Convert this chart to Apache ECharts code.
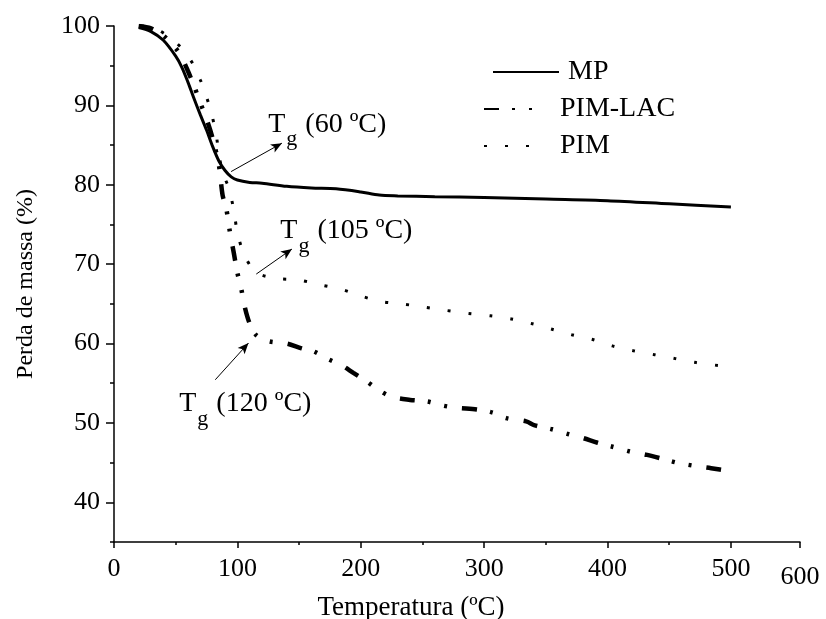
<!DOCTYPE html>
<html><head><meta charset="utf-8">
<script src="https://cdn.jsdelivr.net/npm/echarts@6/dist/echarts.min.js"></script>
<style>html,body{margin:0;padding:0;background:#fff}#c{width:826px;height:619px}</style>
</head><body><div id="c"></div>
<script>
// ---- data ----
const seriesNames = ['MP', 'PIM-LAC', 'PIM'];
const mpTemp = [20,30,40,50,55,60,65,70,75,80,85,90,95,100,110,120,140,160,180,200,215,230,260,300,350,400,450,500];
const mpMass = [99.8,99.3,98.2,96.2,94.8,92.9,90.8,88.8,86.9,84.8,83.0,81.8,81.0,80.6,80.3,80.2,79.8,79.6,79.5,79.1,78.7,78.6,78.5,78.4,78.2,78.0,77.6,77.2];
const lacTemp = [20,30,40,50,55,60,65,70,75,80,85,88,91,94,97,100,103,106,110,115,125,140,152,162,174,184,194,205,214,225,240,254,266,278,294,307,318,334,341,355,368,380,392,404,418,431,444,456,470,484,500];
const lacMass = [100,99.7,98.8,97.2,96.0,94.3,92.4,90.3,88.3,85.8,82.5,78.7,77.0,74.0,71.5,68.9,67.0,64.6,62.5,61.1,60.3,60.0,59.4,59.0,58.0,57.3,56.3,55.2,54.2,53.3,52.9,52.7,52.2,51.9,51.7,51.3,50.6,50.2,49.7,49.2,48.6,48.1,47.5,47.0,46.4,46.0,45.5,45.0,44.6,44.3,43.9];
const pimTemp = [22,30,44,56,66,70,73,79,83,86,90,93,97,100,106,116,132,150,167,185,200,216,233,251,268,287,305,322,339,355,371,388,404,421,438,455,472,491,500];
const pimMass = [100,99.9,98.7,97.0,94.7,93.2,92.0,89.0,86.1,83.0,80.8,79.6,76.9,74.0,71.0,68.9,68.2,68.0,67.4,66.8,66.0,65.3,65.0,64.6,64.2,63.8,63.5,63.1,62.5,61.8,61.1,60.5,59.7,59.1,58.6,58.1,57.6,57.2,57.0];

const xTickValues = [0,100,200,300,400,500,556];
const xTickLabels = ['0','100','200','300','400','500','600'];
const xMinorTicks = [50,150,250,350,450];
const yTickValues = [40,50,60,70,80,90,100];
const yTickLabels = ['40','50','60','70','80','90','100'];
const yMinorTicks = [35,45,55,65,75,85,95];

// annotations: text after "Tg", label anchor (data coords), arrow start / end (data coords)
const annoTexts = ['(60 ºC)', '(105 ºC)', '(120 ºC)'];
const annoAt = [[125.0, 87.6], [134.8, 74.2], [52.9, 52.4]];
const arrowFrom = [[94.9, 81.66], [115.3, 68.75], [82.1, 55.44]];
const arrowTo = [[136.1, 85.24], [144.2, 71.9], [109.0, 60.06]];

// ---- chart ----
const FONT = 'Liberation Serif';
const zip = (a, b) => a.map((v, i) => [v, b[i]]);
const chart = echarts.init(document.getElementById('c'), null, {renderer: 'canvas'});

const baseText = {fontFamily: FONT, color: '#000'};
function legendAt(name, left, top, w, pad) {
  return {
    data: [name], left: left, top: top, padding: 0, itemWidth: w, itemHeight: 14,
    selectedMode: false, orient: 'horizontal',
    itemStyle: {opacity: 0},
    textStyle: Object.assign({fontSize: 28, padding: [0, 0, 0, pad]}, baseText)
  };
}

const option = {
  animation: false,
  backgroundColor: '#fff',
  grid: {left: 114, right: 26, top: 26, bottom: 77, containLabel: false, outerBoundsMode: 'none'},
  legend: [
    legendAt('MP', 492, 58, 66, 4),
    legendAt('PIM-LAC', 483, 95, 59, 12),
    legendAt('PIM', 483, 132, 59, 12)
  ],
  xAxis: [{
    type: 'value', min: 0, max: 556,
    axisLine: {lineStyle: {color: '#000', width: 1.5}},
    axisTick: {show: true, length: 6, lineStyle: {color: '#000', width: 1.5}, customValues: xTickValues},
    axisLabel: {
      customValues: xTickValues, margin: 14, fontSize: 26, fontFamily: FONT, color: '#000',
      formatter: v => { const i = xTickValues.indexOf(v); const s = xTickLabels[i]; return v === 556 ? '{low|' + s + '}' : s; },
      rich: {low: {fontSize: 26, fontFamily: FONT, color: '#000', padding: [8, 0, 0, 0]}}
    },
    splitLine: {show: false},
    name: 'Temperatura (ºC)', nameLocation: 'middle', nameGap: 44,
    nameTextStyle: {fontSize: 27, fontFamily: FONT, color: '#000', padding: [0, 92, 0, 0]}
  }, {
    type: 'value', min: 0, max: 556, gridIndex: 0, position: 'bottom',
    axisLine: {show: false},
    axisTick: {show: true, length: 3, lineStyle: {color: '#000', width: 1.5}, customValues: xMinorTicks},
    axisLabel: {show: false}, splitLine: {show: false}
  }],
  yAxis: [{
    type: 'value', min: 35, max: 100,
    axisLine: {show: true, lineStyle: {color: '#000', width: 1.5}},
    axisTick: {show: true, length: 8, lineStyle: {color: '#000', width: 1.5}, customValues: yTickValues},
    axisLabel: {
      customValues: yTickValues, margin: 14, fontSize: 26, fontFamily: FONT, color: '#000',
      formatter: v => yTickLabels[yTickValues.indexOf(v)]
    },
    splitLine: {show: false},
    name: 'Perda de massa (%)', nameLocation: 'middle', nameGap: 76, nameRotate: 90,
    nameTextStyle: {fontSize: 24, fontFamily: FONT, color: '#000'}
  }, {
    type: 'value', min: 35, max: 100, position: 'left',
    axisLine: {show: false},
    axisTick: {show: true, length: 4, lineStyle: {color: '#000', width: 1.5}, customValues: yMinorTicks},
    axisLabel: {show: false}, splitLine: {show: false}
  }],
  series: [
    {
      name: seriesNames[0], type: 'line', data: zip(mpTemp, mpMass), smooth: 0.3,
      symbol: 'none', xAxisIndex: 0, yAxisIndex: 0, z: 3,
      lineStyle: {color: '#000', width: 3, type: 'solid'}, itemStyle: {color: '#000'},
      markLine: {
        silent: true, symbol: ['none', 'arrow'], symbolSize: [7, 11], animation: false,
        label: {show: false},
        lineStyle: {color: '#000', width: 1, type: 'solid'},
        data: arrowFrom.map((p, i) => [{coord: p}, {coord: arrowTo[i]}])
      },
      markPoint: {
        silent: true, symbol: 'circle', symbolSize: 0, animation: false,
        label: {
          show: true, position: [0, 0], align: 'left', verticalAlign: 'middle',
          formatter: p => '{t|T}{s|g}{t| ' + p.name + '}',
          rich: {
            t: {fontSize: 28, fontFamily: FONT, color: '#000'},
            s: {fontSize: 22, fontFamily: FONT, color: '#000', padding: [30, 1, 0, 1]}
          }
        },
        data: annoTexts.map((t, i) => ({name: t, coord: annoAt[i]}))
      }
    },
    {
      name: seriesNames[1], type: 'line', data: zip(lacTemp, lacMass), smooth: 0.3,
      symbol: 'none', z: 4,
      lineStyle: {color: '#000', width: 4.5, type: [15, 13, 3, 14, 3, 15], cap: 'butt'}, itemStyle: {color: '#000'}
    },
    {
      name: seriesNames[2], type: 'line', data: zip(pimTemp, pimMass), smooth: 0.3,
      symbol: 'none', z: 4,
      lineStyle: {color: '#000', width: 3, type: [3, 18], cap: 'butt'}, itemStyle: {color: '#000'}
    }
  ]
};
chart.setOption(option);
</script>
</body></html>
